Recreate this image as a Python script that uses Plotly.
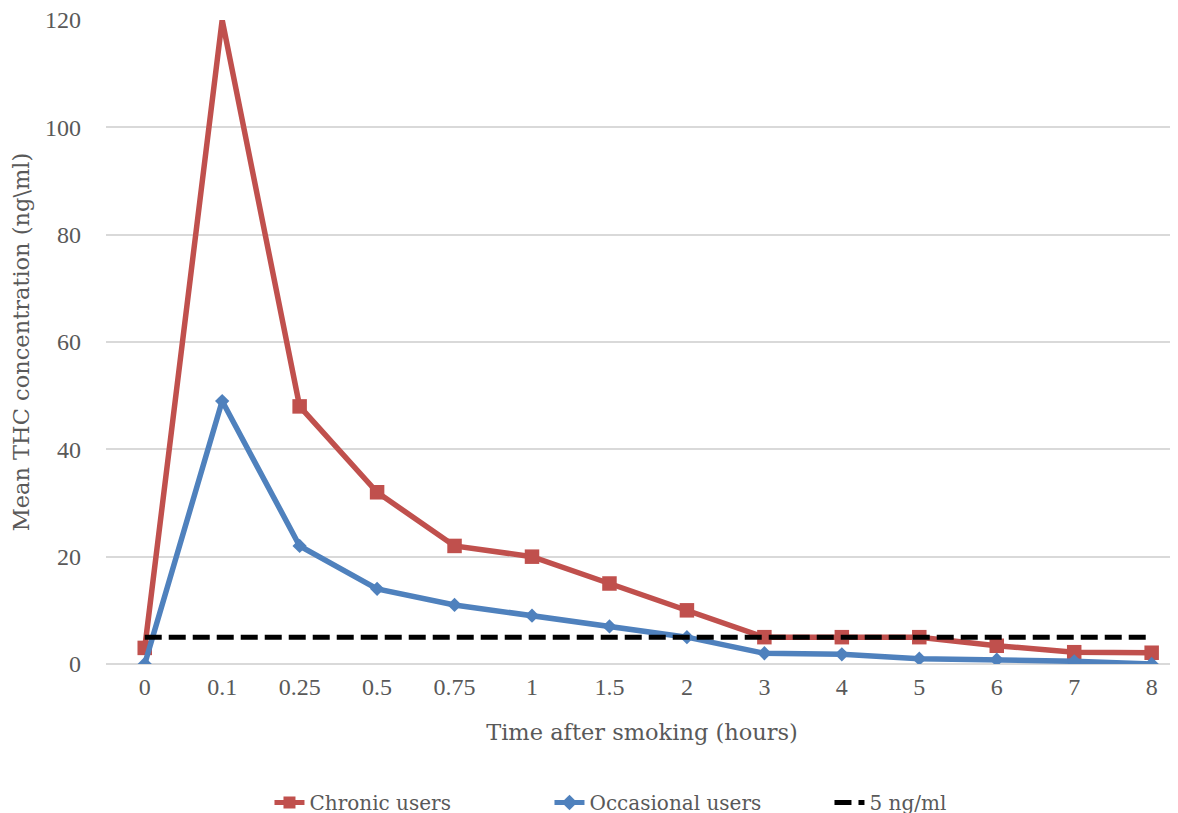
import plotly.graph_objects as go

times = ["0", "0.1", "0.25", "0.5", "0.75", "1", "1.5", "2", "3", "4", "5", "6", "7", "8"]
chronic = [3, 120, 48, 32, 22, 20, 15, 10, 5, 5, 5, 3.4, 2.2, 2.1]
occasional = [0, 49, 22, 14, 11, 9, 7, 5, 2, 1.8, 1, 0.8, 0.5, 0]
threshold = [5] * len(times)

FONT = "DejaVu Serif"
TICKFONT = "Liberation Serif"
GREY = "#595959"
YMAX = 120

# markers sitting on the top edge of the plot are clipped away in the original
chronic_sizes = [0 if v >= YMAX else 14.5 for v in chronic]

fig = go.Figure()
fig.add_trace(go.Scatter(x=times, y=chronic, name="Chronic users", mode="lines+markers",
                         line=dict(color="#C0504D", width=5.5),
                         marker=dict(symbol="square", size=chronic_sizes, color="#C0504D",
                                     opacity=1, line=dict(width=0))))
fig.add_trace(go.Scatter(x=times, y=occasional, name="Occasional users", mode="lines+markers",
                         line=dict(color="#4F81BD", width=5.5),
                         marker=dict(symbol="diamond", size=11, color="#4F81BD")))
fig.add_trace(go.Scatter(x=times, y=threshold, name="5 ng/ml", mode="lines",
                         line=dict(color="black", width=5, dash="17px,7px")))

fig.update_layout(
    width=1170, height=814,
    margin=dict(l=98, r=0, t=12, b=158),
    plot_bgcolor="white", paper_bgcolor="white",
    font=dict(family=FONT, size=20, color=GREY),
    showlegend=True,
    legend=dict(orientation="h", x=0.1525, xanchor="left", y=-0.2453, yanchor="bottom",
                font=dict(size=20, color=GREY), entrywidth=235, entrywidthmode="pixels",
                itemsizing="constant"),
    xaxis=dict(type="category", range=[-0.5, 13.34], showgrid=False, showline=False,
               ticks="", tickfont=dict(family=TICKFONT, size=24, color=GREY), ticklabelstandoff=6,
               automargin=False, ticklabeloverflow="allow",
               title=dict(text="Time after smoking (hours)", font=dict(size=22.5, color=GREY), standoff=25)),
    yaxis=dict(range=[0, YMAX], dtick=20, showgrid=True, gridcolor="#D9D9D9", gridwidth=1.5,
               zeroline=True, zerolinecolor="#D9D9D9", zerolinewidth=1.5,
               ticks="", tickfont=dict(family=TICKFONT, size=24, color=GREY), ticklabelstandoff=24,
               automargin=False, ticklabeloverflow="allow",
               title=dict(text="Mean THC concentration (ng\\ml)", font=dict(size=22.5, color=GREY), standoff=12)),
)

fig.write_html("out.html")
